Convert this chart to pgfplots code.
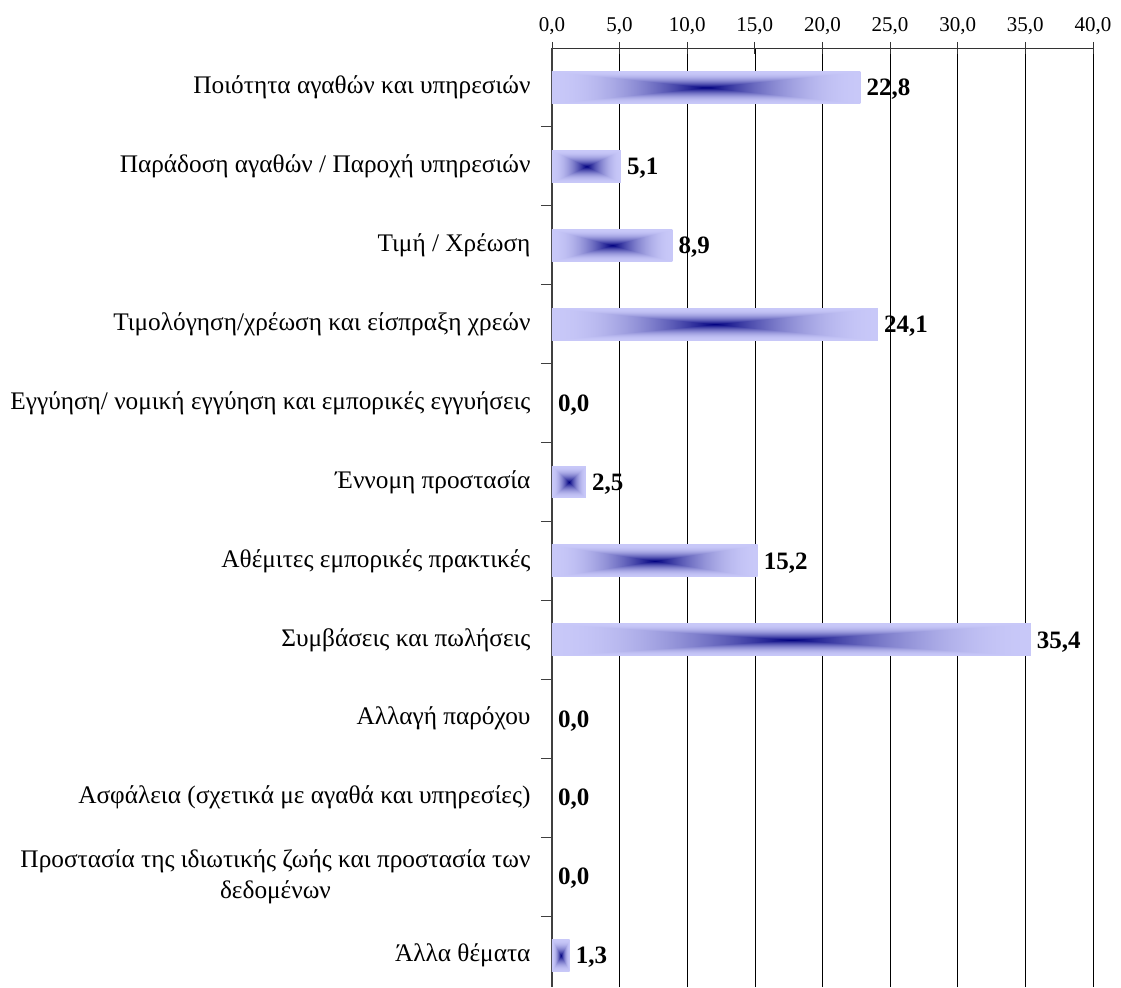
\documentclass[border=0pt]{standalone}
\usepackage{fontspec}
\setmainfont{Liberation Serif}
\usepackage{pgfplots}
\pgfplotsset{compat=1.18}
\pgfdeclarefunctionalshading{boxshade}{\pgfpoint{-50bp}{-50bp}}{\pgfpoint{50bp}{50bp}}{}{
  abs exch abs 2 copy lt {exch} if pop 25 div
  dup 1 gt {pop 1} if
  dup 2 exch sub mul
  dup 0.784 mul exch dup 0.784 mul exch 0.473 mul 0.5 add
}
\begin{document}
\begin{tikzpicture}
\begin{axis}[
  name=ax,
  scale only axis,
  width=541pt, height=939pt,
  xmin=0, xmax=40,
  ymin=-0.4, ymax=11.5,
  axis x line*=top,
  axis y line*=left,
  xtick={0,5,...,40},
  xmajorgrids,
  grid style={black, line width=0.7pt},
  x axis line style={black!80, line width=0.8pt},
  y axis line style={black!75, line width=1.1pt},
  tick align=center,
  major tick length=12pt,
  xtick style={black!80, line width=0.8pt},
  ytick={0.5,1.5,...,10.5},
  yticklabels={},
  ytick style={black!75, line width=0.9pt, xshift=-5pt},
  extra y ticks={0,...,11},
  extra y tick labels={
    Άλλα θέματα,
    {Προστασία της ιδιωτικής ζωής και προστασία των\\δεδομένων},
    Ασφάλεια (σχετικά με αγαθά και υπηρεσίες),
    Αλλαγή παρόχου,
    Συμβάσεις και πωλήσεις,
    Αθέμιτες εμπορικές πρακτικές,
    Έννομη προστασία,
    Εγγύηση/ νομική εγγύηση και εμπορικές εγγυήσεις,
    Τιμολόγηση/χρέωση και είσπραξη χρεών,
    Τιμή / Χρέωση,
    Παράδοση αγαθών / Παροχή υπηρεσιών,
    Ποιότητα αγαθών και υπηρεσιών},
  extra y tick style={grid=none, tick style={draw=none}},
  /pgf/number format/.cd, fixed, fixed zerofill, precision=1, use comma, assume math mode=true, /pgfplots/.cd,
  xticklabel style={font=\fontsize{21}{21}\selectfont, yshift=4pt},
  yticklabel style={font=\fontsize{25.3}{31}\selectfont, align=center, xshift=-12pt},
  clip=false,
]
\addplot[xbar, bar width=0.405, bar shift=0pt, draw=none, shade, shading=boxshade] coordinates {(22.8,11)};
\addplot[xbar, bar width=0.405, bar shift=0pt, draw=none, shade, shading=boxshade] coordinates {(5.1,10)};
\addplot[xbar, bar width=0.405, bar shift=0pt, draw=none, shade, shading=boxshade] coordinates {(8.9,9)};
\addplot[xbar, bar width=0.405, bar shift=0pt, draw=none, shade, shading=boxshade] coordinates {(24.1,8)};
\addplot[xbar, bar width=0.405, bar shift=0pt, draw=none, shade, shading=boxshade] coordinates {(2.5,6)};
\addplot[xbar, bar width=0.405, bar shift=0pt, draw=none, shade, shading=boxshade] coordinates {(15.2,5)};
\addplot[xbar, bar width=0.405, bar shift=0pt, draw=none, shade, shading=boxshade] coordinates {(35.4,4)};
\addplot[xbar, bar width=0.405, bar shift=0pt, draw=none, shade, shading=boxshade] coordinates {(1.3,0)};
\addplot[draw=none, mark=none, point meta=x, nodes near coords,
  every node near coord/.append style={anchor=west, inner sep=0pt, xshift=6pt, yshift=-2pt, text=black, font=\bfseries\fontsize{25}{25}\selectfont}]
  coordinates {(22.8,11) (5.1,10) (8.9,9) (24.1,8) (0,7) (2.5,6) (15.2,5) (35.4,4) (0,3) (0,2) (0,1) (1.3,0)};
\end{axis}
\path (ax.south west) +(-552pt,0pt) (ax.north east) +(28pt,48pt);
\end{tikzpicture}
\end{document}
